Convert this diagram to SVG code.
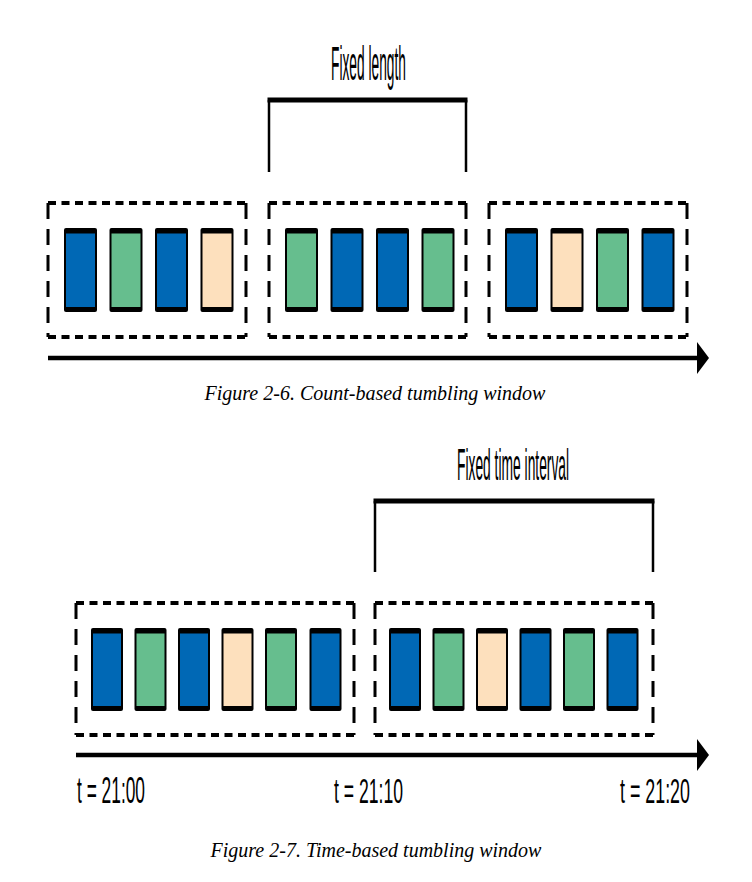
<svg xmlns="http://www.w3.org/2000/svg" width="752" height="882" viewBox="0 0 752 882">
<defs>
<style>
.bg{fill:#ffffff}
.hd{stroke:#000;stroke-width:4;fill:none;stroke-dasharray:8 5.5}
.vd{stroke:#000;stroke-width:3;fill:none;stroke-dasharray:16 10}
.frame{fill:#000}
.blue{fill:#0068b5}
.green{fill:#66be8e}
.peach{fill:#fde0bd}
.axis{stroke:#000;stroke-width:4.5;fill:none}
.br{stroke:#000;stroke-width:2.5;fill:none}
.brt{stroke:#000;stroke-width:5;fill:none}
.lbl{font-family:"Liberation Sans","DejaVu Sans",sans-serif;fill:#000}
.cap{font-family:"Liberation Serif","DejaVu Serif",serif;font-style:italic;font-size:20px;fill:#000;text-anchor:middle}
</style>
<marker id="ah" viewBox="0 0 12 32" refX="0" refY="16" markerWidth="12" markerHeight="32" markerUnits="userSpaceOnUse" orient="auto">
<path d="M0,0 L12,16 L0,32 Z" fill="#000"/>
</marker>
</defs>
<rect class="bg" x="0" y="0" width="752" height="882"/>

<!-- Figure 2-6 -->
<g id="label-fixed-length">
<text class="lbl" transform="translate(331,80) scale(0.287,1)" font-size="48">Fixed length</text>
</g>
<g id="connectors-top">
<path class="brt" d="M267.5,100 H467.5"/>
<path class="br" d="M269,100 V172 M466,100 V172"/>
<path class="axis" d="M48,358 H697" marker-end="url(#ah)"/>
</g>

<g id="window-1">
<path class="hd" d="M48,203 H246 M48,337 H246"/>
<path class="vd" d="M48,203 V337 M246,203 V337"/>
<g id="w1-t1"><rect class="frame" x="64" y="228" width="33" height="84" rx="2"/><rect class="blue" x="66" y="233.5" width="29" height="73.5"/></g>
<g id="w1-t2"><rect class="frame" x="109.5" y="228" width="33" height="84" rx="2"/><rect class="green" x="111.5" y="233.5" width="29" height="73.5"/></g>
<g id="w1-t3"><rect class="frame" x="155" y="228" width="33" height="84" rx="2"/><rect class="blue" x="157" y="233.5" width="29" height="73.5"/></g>
<g id="w1-t4"><rect class="frame" x="200.5" y="228" width="33" height="84" rx="2"/><rect class="peach" x="202.5" y="233.5" width="29" height="73.5"/></g>
</g>

<g id="window-2">
<path class="hd" d="M269,203 H466 M269,337 H466"/>
<path class="vd" d="M269,203 V337 M466,203 V337"/>
<g id="w2-t1"><rect class="frame" x="285" y="228" width="33" height="84" rx="2"/><rect class="green" x="287" y="233.5" width="29" height="73.5"/></g>
<g id="w2-t2"><rect class="frame" x="330.5" y="228" width="33" height="84" rx="2"/><rect class="blue" x="332.5" y="233.5" width="29" height="73.5"/></g>
<g id="w2-t3"><rect class="frame" x="376" y="228" width="33" height="84" rx="2"/><rect class="blue" x="378" y="233.5" width="29" height="73.5"/></g>
<g id="w2-t4"><rect class="frame" x="421.5" y="228" width="33" height="84" rx="2"/><rect class="green" x="423.5" y="233.5" width="29" height="73.5"/></g>
</g>

<g id="window-3">
<path class="hd" d="M489,203 H687 M489,337 H687"/>
<path class="vd" d="M489,203 V337 M687,203 V337"/>
<g id="w3-t1"><rect class="frame" x="505" y="228" width="33" height="84" rx="2"/><rect class="blue" x="507" y="233.5" width="29" height="73.5"/></g>
<g id="w3-t2"><rect class="frame" x="550.5" y="228" width="33" height="84" rx="2"/><rect class="peach" x="552.5" y="233.5" width="29" height="73.5"/></g>
<g id="w3-t3"><rect class="frame" x="596" y="228" width="33" height="84" rx="2"/><rect class="green" x="598" y="233.5" width="29" height="73.5"/></g>
<g id="w3-t4"><rect class="frame" x="641.5" y="228" width="33" height="84" rx="2"/><rect class="blue" x="643.5" y="233.5" width="29" height="73.5"/></g>
</g>

<g id="caption-1">
<text class="cap" x="375" y="400">Figure 2-6. Count-based tumbling window</text>
</g>

<!-- Figure 2-7 -->
<g id="label-fixed-time">
<text class="lbl" transform="translate(457,480) scale(0.314,1)" font-size="44">Fixed time interval</text>
</g>
<g id="connectors-bottom">
<path class="brt" d="M373.5,501 H654.5"/>
<path class="br" d="M375,501 V572 M653,501 V572"/>
<path class="axis" d="M76,755 H697" marker-end="url(#ah)"/>
</g>

<g id="window-4">
<path class="hd" d="M76,603 H354 M76,735 H354"/>
<path class="vd" d="M76,603 V735 M354,603 V735"/>
<g id="w4-t1"><rect class="frame" x="91" y="628" width="32" height="83" rx="2"/><rect class="blue" x="93" y="633.5" width="28" height="72.5"/></g>
<g id="w4-t2"><rect class="frame" x="134.5" y="628" width="32" height="83" rx="2"/><rect class="green" x="136.5" y="633.5" width="28" height="72.5"/></g>
<g id="w4-t3"><rect class="frame" x="178" y="628" width="32" height="83" rx="2"/><rect class="blue" x="180" y="633.5" width="28" height="72.5"/></g>
<g id="w4-t4"><rect class="frame" x="221.5" y="628" width="32" height="83" rx="2"/><rect class="peach" x="223.5" y="633.5" width="28" height="72.5"/></g>
<g id="w4-t5"><rect class="frame" x="265" y="628" width="32" height="83" rx="2"/><rect class="green" x="267" y="633.5" width="28" height="72.5"/></g>
<g id="w4-t6"><rect class="frame" x="309.5" y="628" width="32" height="83" rx="2"/><rect class="blue" x="311.5" y="633.5" width="28" height="72.5"/></g>
</g>

<g id="window-5">
<path class="hd" d="M375,603 H653 M375,735 H653"/>
<path class="vd" d="M375,603 V735 M653,603 V735"/>
<g id="w5-t1"><rect class="frame" x="389" y="628" width="32" height="83" rx="2"/><rect class="blue" x="391" y="633.5" width="28" height="72.5"/></g>
<g id="w5-t2"><rect class="frame" x="432.5" y="628" width="32" height="83" rx="2"/><rect class="green" x="434.5" y="633.5" width="28" height="72.5"/></g>
<g id="w5-t3"><rect class="frame" x="476" y="628" width="32" height="83" rx="2"/><rect class="peach" x="478" y="633.5" width="28" height="72.5"/></g>
<g id="w5-t4"><rect class="frame" x="519.5" y="628" width="32" height="83" rx="2"/><rect class="blue" x="521.5" y="633.5" width="28" height="72.5"/></g>
<g id="w5-t5"><rect class="frame" x="563" y="628" width="32" height="83" rx="2"/><rect class="green" x="565" y="633.5" width="28" height="72.5"/></g>
<g id="w5-t6"><rect class="frame" x="606.5" y="628" width="32" height="83" rx="2"/><rect class="blue" x="608.5" y="633.5" width="28" height="72.5"/></g>
</g>

<g id="time-labels">
<text class="lbl" transform="translate(77,803) scale(0.482,1)" font-size="36">t = 21:00</text>
<text class="lbl" transform="translate(334,803) scale(0.489,1)" font-size="36">t = 21:10</text>
<text class="lbl" transform="translate(620,803) scale(0.496,1)" font-size="36">t = 21:20</text>
</g>

<g id="caption-2">
<text class="cap" x="376" y="857">Figure 2-7. Time-based tumbling window</text>
</g>
</svg>
